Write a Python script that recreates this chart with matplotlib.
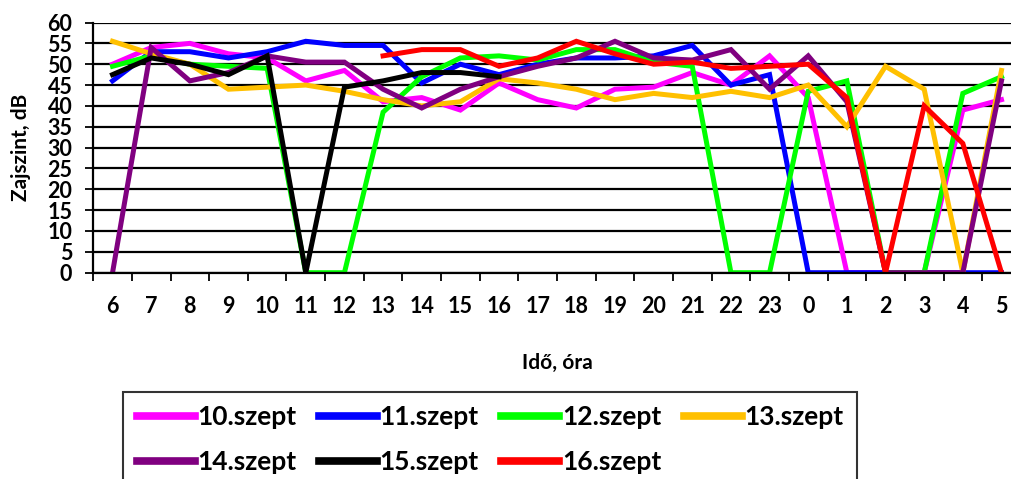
import matplotlib
matplotlib.use("Agg")
import matplotlib.pyplot as plt
import numpy as np

plt.rcParams['font.family'] = ['Lato', 'DejaVu Sans']
plt.rcParams['font.weight'] = 'bold'

# orak (kategoriak)
hours = ['6', '7', '8', '9', '10', '11', '12', '13', '14', '15', '16', '17',
         '18', '19', '20', '21', '22', '23', '0', '1', '2', '3', '4', '5']

nan = np.nan
sz10 = [50, 54, 55, 52.5, 51.5, 46, 48.5, 41, 42, 39, 45.5, 41.5,
        39.5, 44, 44.5, 48, 45, 52, 42, 0, 0, 0, 39, 41.5]
sz11 = [46, 53, 53, 51.5, 53, 55.5, 54.5, 54.5, 45.5, 50, 47.5, 50,
        51.5, 51.5, 52, 54.5, 45, 47.5, 0, 0, 0, 0, 0, 0]
sz12 = [49.5, 52, 50, 49.5, 49, 0, 0, 38.5, 47, 51.5, 52, 51,
        53.5, 53.5, 50.5, 49.5, 0, 0, 43.5, 46, 0, 0, 43, 47]
sz13 = [55.5, 52.5, 50, 44, 44.5, 45, 43.5, 41.5, 40, 41, 46.5, 45.5,
        44, 41.5, 43, 42, 43.5, 42, 45, 35, 49.5, 44, 0, 48.5]
sz14 = [0, 54, 46, 48, 52, 50.5, 50.5, 44, 39.5, 44, 47, 49.5,
        51.5, 55.5, 51.5, 51, 53.5, 44, 52, 41, 0, 0, 0, 46]
sz15 = [47.5, 51.5, 50, 47.5, 52, 0, 44.5, 46, 48, 48, 47, nan,
        nan, nan, nan, nan, nan, nan, nan, nan, nan, nan, nan, nan]
sz16 = [nan, nan, nan, nan, nan, nan, nan, 52, 53.5, 53.5, 49.5, 51.5,
        55.5, 52.5, 50, 50.5, 49, 49.5, 50, 42, 0, 40, 31, 0]

series = [sz10, sz11, sz12, sz13, sz14, sz15, sz16]
labels = ['10.szept', '11.szept', '12.szept', '13.szept',
          '14.szept', '15.szept', '16.szept']
colors = ['#FF00FF', '#0000FF', '#00FF00', '#FFC000',
          '#800080', '#000000', '#FF0000']

fig = plt.figure(figsize=(10.12, 4.79), dpi=100)
ax = fig.add_axes([0.0921, 0.4307, 0.9166, 0.5223])

x = np.arange(len(hours))
lines = []
for s, l, c in zip(series, labels, colors):
    ln, = ax.plot(x, s, color=c, lw=3.6, label=l, solid_joinstyle='miter')
    lines.append(ln)

ax.set_xlim(-0.5, len(hours) - 0.5)
ax.set_ylim(0, 60)
ax.set_yticks(np.arange(0, 61, 5))
ax.yaxis.grid(True, color='black', lw=1.6)
ax.set_axisbelow(True)

ax.set_xticks(x)
ax.set_xticklabels(hours, fontsize=15.5, fontweight='bold')
ax.set_xticks(np.arange(-0.5, len(hours)), minor=True)
ax.tick_params(axis='x', which='major', length=0, pad=17)
ax.tick_params(axis='x', which='minor', length=6, width=1.3, direction='out')
ax.tick_params(axis='y', length=6, width=1.3, labelsize=15.5, pad=9)
for t in ax.get_yticklabels():
    t.set_fontweight('bold')

for sp in ['top', 'right']:
    ax.spines[sp].set_visible(False)
ax.spines['left'].set_linewidth(1.6)
ax.spines['bottom'].set_linewidth(1.6)

ax.set_ylabel('Zajszint, dB', fontsize=15, fontweight='bold', labelpad=12)
ax.set_xlabel('Idő, óra', fontsize=15, fontweight='bold', labelpad=26)

# sorfolytonos sorrend a jelmagyarazatban
order = [0, 4, 1, 5, 2, 6, 3]
leg = fig.legend([lines[i] for i in order], [labels[i] for i in order],
                 loc='upper left', bbox_to_anchor=(0.122, 0.1816), ncol=4,
                 fontsize=19, frameon=True, fancybox=False, edgecolor='black',
                 handlelength=2.2, handletextpad=0.1, columnspacing=0.85,
                 labelspacing=0.8, borderpad=0.5, borderaxespad=0)
leg.get_frame().set_linewidth(1.5)
for h in leg.get_lines():
    h.set_linewidth(5.5)
for t in leg.get_texts():
    t.set_fontweight('bold')

fig.savefig('out.png', dpi=100)
